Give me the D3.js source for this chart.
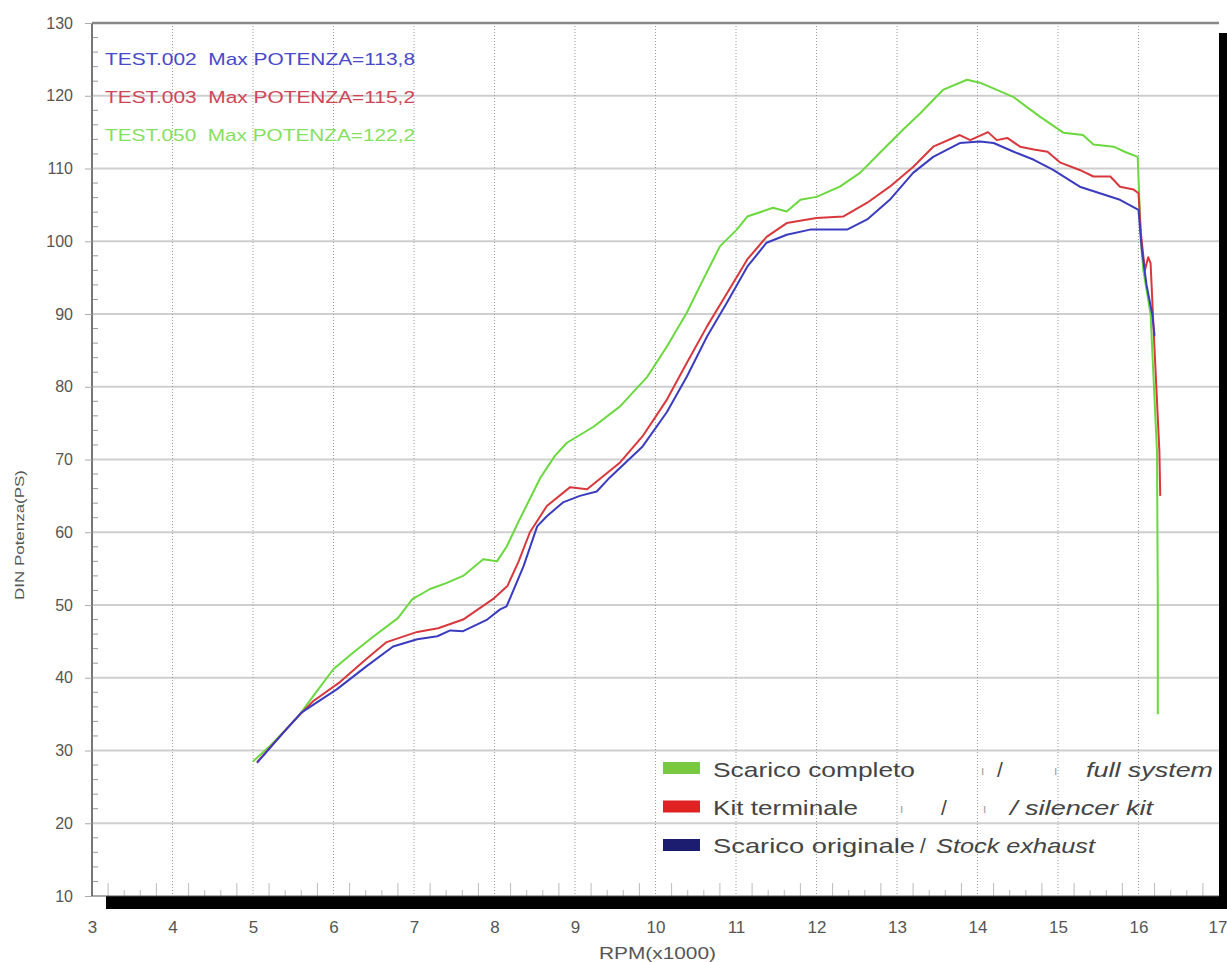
<!DOCTYPE html>
<html><head><meta charset="utf-8">
<script src="https://cdn.jsdelivr.net/npm/d3@7"></script>
<style>body{margin:0;background:#fff}svg{display:block;font-family:Arial,"Liberation Sans",sans-serif}</style>
</head><body><svg id="c" width="1227" height="962"></svg>
<script>
const xTicks = [3,4,5,6,7,8,9,10,11,12,13,14,15,16,17];
const yTicks = [10,20,30,40,50,60,70,80,90,100,110,120,130];

const fullRpm = [5.0,5.2,5.4,5.55,5.75,6.0,6.25,6.5,6.8,6.98,7.2,7.4,7.61,7.86,8.03,8.15,8.3,8.57,8.75,8.9,9.23,9.56,9.9,10.14,10.39,10.55,10.8,11.01,11.14,11.46,11.63,11.8,12.0,12.29,12.54,12.79,13.07,13.29,13.57,13.87,14.03,14.45,14.78,15.07,15.31,15.44,15.69,15.85,15.99,16.03,16.06,16.15,16.23,16.24,16.24];
const fullPs  = [28.5,30.5,32.8,34.5,37.5,41.2,43.5,45.7,48.2,50.8,52.2,53.0,54.0,56.3,56.0,58.0,61.5,67.5,70.5,72.3,74.5,77.3,81.4,85.5,90.2,93.8,99.3,101.6,103.4,104.6,104.1,105.7,106.1,107.5,109.4,112.2,115.3,117.6,120.8,122.2,121.8,119.8,117.1,114.9,114.6,113.3,113.0,112.2,111.6,100,96,90,71,50,35];

const kitRpm = [5.05,5.3,5.5,5.75,6.08,6.4,6.66,7.04,7.3,7.61,7.98,8.16,8.3,8.44,8.65,8.94,9.15,9.56,9.84,10.14,10.39,10.64,10.89,11.14,11.38,11.63,12.0,12.33,12.63,12.91,13.2,13.45,13.78,13.91,14.13,14.24,14.37,14.53,14.7,14.87,15.03,15.27,15.44,15.65,15.77,15.94,16.0,16.03,16.08,16.12,16.15,16.2,16.26,16.27];
const kitPs  = [28.4,31.5,34.0,36.8,39.4,42.5,44.9,46.3,46.8,48.0,50.8,52.6,56.0,60.0,63.6,66.2,65.9,69.6,73.2,78.2,83.3,88.3,92.9,97.5,100.6,102.5,103.2,103.4,105.3,107.5,110.2,113.0,114.6,113.9,115.0,113.9,114.2,113.0,112.6,112.3,110.8,109.8,108.9,108.9,107.5,107.1,106.6,101,96,97.8,97,85,71,65];

const stockRpm = [5.05,5.3,5.6,6.04,6.4,6.74,7.04,7.29,7.45,7.61,7.91,8.07,8.15,8.36,8.53,8.65,8.85,9.06,9.27,9.43,9.84,10.14,10.39,10.64,10.89,11.14,11.38,11.63,11.92,12.38,12.63,12.91,13.2,13.45,13.78,14.03,14.2,14.45,14.7,14.94,15.27,15.52,15.77,16.0,16.04,16.1,16.17,16.2];
const stockPs  = [28.3,31.5,35.2,38.4,41.5,44.3,45.3,45.7,46.5,46.4,48.0,49.4,49.8,55.3,60.8,62.2,64.1,65.0,65.6,67.5,71.8,76.5,81.4,86.9,91.6,96.5,99.8,100.9,101.6,101.6,103.0,105.7,109.4,111.6,113.5,113.7,113.5,112.3,111.2,109.8,107.5,106.6,105.7,104.3,99,94,90,87];

const seriesNames = ["Scarico completo","Kit terminale","Scarico originale"];
const seriesEn = ["full system","silencer kit","Stock exhaust"];
const annotations = ["TEST.002  Max POTENZA=113,8","TEST.003  Max POTENZA=115,2","TEST.050  Max POTENZA=122,2"];

const svg = d3.select("#c");
const L=92,R=1219,T=23,B=896;
const x = d3.scaleLinear().domain([3,17]).range([L,R]);
const y = d3.scaleLinear().domain([10,130]).range([B,T]);

// shadow
svg.append("rect").attr("x",106).attr("y",B).attr("width",1227-106).attr("height",13).attr("fill","#000");
svg.append("rect").attr("x",R).attr("y",33).attr("width",8).attr("height",B+13-33).attr("fill","#000");
svg.append("rect").attr("x",L).attr("y",T).attr("width",R-L).attr("height",B-T).attr("fill","#fff");

// grid
svg.append("g").selectAll("line").data(yTicks.filter(d=>d>10&&d<130)).join("line")
  .attr("x1",L).attr("x2",R).attr("y1",d=>y(d)).attr("y2",d=>y(d))
  .attr("stroke","#cfcfcf").attr("stroke-width",2);
svg.append("g").selectAll("line").data(xTicks.filter(d=>d>3&&d<17)).join("line")
  .attr("x1",d=>x(d)).attr("x2",d=>x(d)).attr("y1",T).attr("y2",B)
  .attr("stroke","#9a9a9a").attr("stroke-width",1).attr("stroke-dasharray","1,2");

// minor ticks
const yMinor = d3.range(10,130,2).filter(d=>d%10!==0);
svg.append("g").selectAll("line").data(yMinor).join("line")
  .attr("x1",L).attr("x2",L+6).attr("y1",d=>y(d)).attr("y2",d=>y(d))
  .attr("stroke","#999").attr("stroke-width",1);
const xMinor = d3.range(3,17,0.2).filter(d=>Math.abs(d-Math.round(d))>0.01);
svg.append("g").selectAll("line").data(xMinor).join("line")
  .attr("x1",d=>x(d)).attr("x2",d=>x(d)).attr("y1",B)
  .attr("y2",d=>{const f=Math.round((d-Math.floor(d))*10); return B-((f===2||f===8)?13:6);})
  .attr("stroke","#bbb").attr("stroke-width",1);

// frame
svg.append("line").attr("x1",L).attr("x2",R).attr("y1",T).attr("y2",T).attr("stroke","#888").attr("stroke-width",2.5);
svg.append("line").attr("x1",L).attr("x2",L).attr("y1",T).attr("y2",B).attr("stroke","#777").attr("stroke-width",2);
svg.append("line").attr("x1",L).attr("x2",R).attr("y1",B).attr("y2",B).attr("stroke","#555").attr("stroke-width",1);

// axes labels
const yAxis = d3.axisLeft(y).tickValues(yTicks).tickSize(7).tickPadding(12);
const ga = svg.append("g").attr("transform",`translate(${L},0)`).call(yAxis);
ga.select(".domain").remove();
ga.selectAll("line").attr("stroke","#aaa");
ga.selectAll("text").attr("font-size",16).attr("fill","#555").attr("font-family","Arial");
const xAxis = d3.axisBottom(x).tickValues(xTicks).tickSize(0).tickPadding(25);
const gx = svg.append("g").attr("transform",`translate(0,${B})`).call(xAxis);
gx.select(".domain").remove();
gx.selectAll("text").attr("font-size",17).attr("fill","#555").attr("font-family","Arial")
  .filter(d=>d===17).attr("text-anchor","end").attr("dx",8);

svg.append("text").attr("x",599).attr("y",959).attr("font-size",16).attr("fill","#555")
  .attr("textLength",117).attr("lengthAdjust","spacingAndGlyphs").text("RPM(x1000)");
svg.append("text").attr("transform","translate(24,600) rotate(-90)").attr("font-size",13).attr("fill","#555")
  .attr("textLength",130).attr("lengthAdjust","spacingAndGlyphs").text("DIN Potenza(PS)");

// curves
const line = d3.line().x(d=>x(d[0])).y(d=>y(d[1]));
const curves = [
  {r:fullRpm,p:fullPs,c:"#6ad83e"},
  {r:kitRpm,p:kitPs,c:"#d8383c"},
  {r:stockRpm,p:stockPs,c:"#3b3bc0"}
];
svg.append("g").selectAll("path").data(curves).join("path")
  .attr("d",d=>line(d.r.map((v,i)=>[v,d.p[i]])))
  .attr("fill","none").attr("stroke",d=>d.c).attr("stroke-width",2).attr("stroke-linejoin","round");

// annotations
const annColors=["#4848c8","#d04458","#86e060"];
svg.append("g").selectAll("text").data(annotations).join("text")
  .attr("x",105).attr("y",(d,i)=>[65,103,141][i]).attr("font-size",17).attr("fill",(d,i)=>annColors[i])
  .attr("textLength",310).attr("lengthAdjust","spacingAndGlyphs")
  .attr("xml:space","preserve").style("white-space","pre").text(d=>d);

// legend
const swC=["#78c840","#e02222","#1c1c70"];
const lg = svg.append("g");
seriesNames.forEach((n,i)=>{
  const yy = 768+i*38.5;
  lg.append("rect").attr("x",663).attr("y",yy-6).attr("width",37).attr("height",12).attr("fill",swC[i]);
});
const tc="#444", fs=21;
function t(xx,yy,s,len,it,size){
  const e=lg.append("text").attr("x",xx).attr("y",yy).attr("font-size",size||fs).attr("fill",tc).text(s);
  if(len) e.attr("textLength",len).attr("lengthAdjust","spacingAndGlyphs");
  if(it) e.attr("font-style","italic");
  return e;
}
t(713,777,seriesNames[0],202);
t(997,777,"/",null,false);
t(1086,777,seriesEn[0],127,true);
t(981,775,"ı",null,false,12).attr("fill","#999");
t(1054,775,"ı",null,false,12).attr("fill","#999");
t(713,815,seriesNames[1],145);
t(941,815,"/",null,false);
t(1010,815,"/ "+seriesEn[1],143,true);
t(900,813,"ı",null,false,12).attr("fill","#999");
t(983,813,"ı",null,false,12).attr("fill","#999");
t(713,853,seriesNames[2],202);
t(920,853,"/",null,false);
t(936,853,seriesEn[2],159,true);
</script></body></html>
